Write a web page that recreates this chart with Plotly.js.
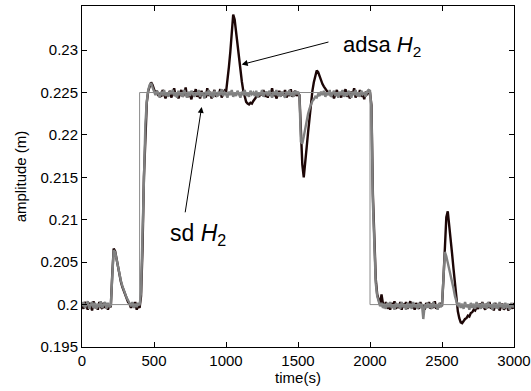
<!DOCTYPE html>
<html>
<head>
<meta charset="utf-8">
<script src="https://cdn.plot.ly/plotly-3.0.1.min.js"></script>
<style>html,body{margin:0;padding:0;background:#fff;}#chart{width:531px;height:391px;}</style>
</head>
<body>
<div id="chart"></div>
<script>
// time (s)
const timeS = [
  0,10,20,30,40,50,60,70,80,90,100,110,120,130,140,150,160,170,180,190,
  200,210,220,230,240,250,260,270,280,290,300,310,320,330,340,350,360,370,380,390,
  400,410,420,430,440,450,460,470,480,490,500,510,520,530,540,550,560,570,580,590,
  600,610,620,630,640,650,660,670,680,690,700,710,720,730,740,750,760,770,780,790,
  800,810,820,830,840,850,860,870,880,890,900,910,920,930,940,950,960,970,980,990,
  1000,1010,1020,1030,1040,1050,1060,1070,1080,1090,1100,1110,1120,1130,1140,1150,1160,1170,1180,1190,
  1200,1210,1220,1230,1240,1250,1260,1270,1280,1290,1300,1310,1320,1330,1340,1350,1360,1370,1380,1390,
  1400,1410,1420,1430,1440,1450,1460,1470,1480,1490,1500,1510,1520,1530,1540,1550,1560,1570,1580,1590,
  1600,1610,1620,1630,1640,1650,1660,1670,1680,1690,1700,1710,1720,1730,1740,1750,1760,1770,1780,1790,
  1800,1810,1820,1830,1840,1850,1860,1870,1880,1890,1900,1910,1920,1930,1940,1950,1960,1970,1980,1990,
  2000,2010,2020,2030,2040,2050,2060,2070,2080,2090,2100,2110,2120,2130,2140,2150,2160,2170,2180,2190,
  2200,2210,2220,2230,2240,2250,2260,2270,2280,2290,2300,2310,2320,2330,2340,2350,2360,2370,2380,2390,
  2400,2410,2420,2430,2440,2450,2460,2470,2480,2490,2500,2510,2520,2530,2540,2550,2560,2570,2580,2590,
  2600,2610,2620,2630,2640,2650,2660,2670,2680,2690,2700,2710,2720,2730,2740,2750,2760,2770,2780,2790,
  2800,2810,2820,2830,2840,2850,2860,2870,2880,2890,2900,2910,2920,2930,2940,2950,2960,2970,2980,2990,
  3000
];
// adsa H2 (black)
const adsaH2 = [
  0.2001,0.1995,0.2003,0.1997,0.1994,0.2002,0.1999,0.1993,0.2004,0.1996,0.2000,0.1994,0.2003,0.1998,0.1995,0.2002,0.1996,0.2001,0.1994,0.1999,
  0.1997,0.2035,0.2066,0.2063,0.2054,0.2042,0.2033,0.2027,0.2021,0.2016,0.2012,0.2007,0.2003,0.2001,0.1996,0.2002,0.1997,0.2003,0.1994,0.1999,
  0.1996,0.2010,0.2065,0.2150,0.2205,0.2238,0.2252,0.2258,0.2262,0.2259,0.2254,0.2249,0.2252,0.2246,0.2250,0.2245,0.2253,0.2248,0.2243,0.2250,
  0.2247,0.2252,0.2244,0.2249,0.2255,0.2246,0.2250,0.2243,0.2248,0.2253,0.2245,0.2249,0.2256,0.2244,0.2250,0.2247,0.2242,0.2251,0.2248,0.2254,
  0.2245,0.2249,0.2243,0.2252,0.2247,0.2250,0.2244,0.2255,0.2246,0.2251,0.2243,0.2248,0.2253,0.2245,0.2250,0.2247,0.2254,0.2244,0.2249,0.2252,
  0.2250,0.2262,0.2280,0.2298,0.2318,0.2342,0.2336,0.2320,0.2304,0.2288,0.2275,0.2263,0.2252,0.2244,0.2239,0.2237,0.2236,0.2238,0.2237,0.2240,
  0.2242,0.2244,0.2247,0.2245,0.2250,0.2247,0.2253,0.2245,0.2249,0.2244,0.2251,0.2247,0.2255,0.2246,0.2250,0.2243,0.2249,0.2252,0.2246,0.2250,
  0.2247,0.2253,0.2244,0.2250,0.2246,0.2254,0.2245,0.2249,0.2252,0.2246,0.2250,0.2247,0.2210,0.2165,0.2150,0.2165,0.2185,0.2203,0.2220,0.2238,
  0.2252,0.2262,0.2270,0.2276,0.2274,0.2269,0.2264,0.2260,0.2257,0.2255,0.2252,0.2248,0.2251,0.2245,0.2250,0.2243,0.2249,0.2253,0.2246,0.2250,
  0.2244,0.2252,0.2247,0.2254,0.2245,0.2249,0.2243,0.2251,0.2248,0.2255,0.2244,0.2250,0.2246,0.2253,0.2245,0.2249,0.2242,0.2251,0.2247,0.2253,
  0.2250,0.2235,0.2130,0.2065,0.2030,0.2012,0.2004,0.2000,0.2012,0.2001,0.1996,0.2003,0.1995,0.2001,0.1994,0.2002,0.1997,0.2004,0.1995,0.2000,
  0.1996,0.2003,0.1994,0.2001,0.1997,0.2003,0.1995,0.1999,0.2004,0.1996,0.2001,0.1994,0.2002,0.1998,0.1995,0.2003,0.1997,0.2000,0.1994,0.2002,
  0.1997,0.2003,0.1995,0.2001,0.1996,0.2004,0.1995,0.2000,0.1997,0.2002,0.1998,0.2030,0.2072,0.2103,0.2110,0.2095,0.2078,0.2060,0.2042,0.2022,
  0.2004,0.1992,0.1984,0.1979,0.1978,0.1981,0.1983,0.1984,0.1987,0.1986,0.1990,0.1991,0.1994,0.1993,0.1997,0.1995,0.2001,0.1996,0.2003,0.1997,
  0.1994,0.2001,0.1996,0.2003,0.1995,0.1999,0.1993,0.2002,0.1996,0.2000,0.1993,0.1998,0.2001,0.1994,0.1997,0.2000,0.1993,0.1996,0.1999,0.1995,
  0.2002
];
// sd H2 (gray)
const sdH2 = [
  0.1998,0.2003,0.1996,0.2001,0.2004,0.1995,0.2000,0.2003,0.1996,0.2002,0.1995,0.2001,0.1997,0.2004,0.1996,0.2000,0.2003,0.1995,0.2002,0.1997,
  0.1999,0.2033,0.2064,0.2062,0.2053,0.2043,0.2034,0.2028,0.2022,0.2017,0.2013,0.2008,0.2005,0.2002,0.1998,0.2003,0.1996,0.2001,0.1997,0.2002,
  0.1999,0.2015,0.2075,0.2160,0.2212,0.2240,0.2253,0.2259,0.2261,0.2256,0.2251,0.2247,0.2252,0.2248,0.2244,0.2251,0.2247,0.2253,0.2246,0.2250,
  0.2245,0.2251,0.2248,0.2253,0.2246,0.2250,0.2244,0.2252,0.2247,0.2250,0.2245,0.2253,0.2248,0.2244,0.2251,0.2246,0.2252,0.2249,0.2245,0.2250,
  0.2247,0.2253,0.2245,0.2250,0.2248,0.2243,0.2251,0.2247,0.2253,0.2246,0.2249,0.2244,0.2252,0.2248,0.2245,0.2251,0.2247,0.2254,0.2246,0.2250,
  0.2248,0.2244,0.2251,0.2247,0.2253,0.2245,0.2250,0.2246,0.2252,0.2248,0.2244,0.2251,0.2247,0.2253,0.2246,0.2249,0.2245,0.2252,0.2248,0.2250,
  0.2246,0.2252,0.2244,0.2250,0.2247,0.2253,0.2245,0.2249,0.2251,0.2246,0.2252,0.2248,0.2244,0.2251,0.2247,0.2253,0.2246,0.2250,0.2245,0.2251,
  0.2248,0.2244,0.2251,0.2247,0.2253,0.2246,0.2250,0.2245,0.2252,0.2248,0.2251,0.2246,0.2192,0.2190,0.2198,0.2208,0.2217,0.2225,0.2231,0.2236,
  0.2240,0.2242,0.2245,0.2244,0.2248,0.2246,0.2251,0.2247,0.2252,0.2245,0.2250,0.2247,0.2253,0.2245,0.2249,0.2252,0.2246,0.2250,0.2244,0.2251,
  0.2247,0.2253,0.2245,0.2250,0.2246,0.2252,0.2248,0.2244,0.2251,0.2247,0.2253,0.2246,0.2249,0.2245,0.2252,0.2248,0.2250,0.2245,0.2251,0.2253,
  0.2252,0.2232,0.2120,0.2058,0.2025,0.2010,0.2003,0.1998,0.2002,0.1996,0.2001,0.1995,0.2002,0.1997,0.2003,0.1996,0.2000,0.1994,0.2002,0.1997,
  0.2001,0.1995,0.2003,0.1997,0.2000,0.1994,0.2002,0.1996,0.2001,0.1995,0.2003,0.1997,0.2000,0.1995,0.2002,0.1996,0.2001,0.1983,0.1999,0.1996,
  0.2002,0.1996,0.2001,0.1995,0.2003,0.1997,0.2000,0.1994,0.2002,0.1997,0.2000,0.2040,0.2062,0.2057,0.2050,0.2043,0.2036,0.2028,0.2019,0.2010,
  0.2003,0.1998,0.2002,0.1996,0.2001,0.1995,0.2003,0.1997,0.2000,0.1994,0.2002,0.1996,0.2001,0.1995,0.2003,0.1997,0.2000,0.1995,0.2002,0.1996,
  0.2001,0.1995,0.2003,0.1997,0.2000,0.1994,0.2002,0.1996,0.2001,0.1995,0.2003,0.1997,0.2000,0.1995,0.2002,0.1996,0.2001,0.1994,0.2002,0.1997,
  0.1999
];
// reference set-point (thin line)
const refTime = [0, 400, 400, 2000, 2000, 3000];
const refLevel = [0.2, 0.2, 0.225, 0.225, 0.2, 0.2];

const xTicks = [0, 500, 1000, 1500, 2000, 2500, 3000];
const xTickText = ['0', '500', '1000', '1500', '2000', '2500', '3000'];
const yTicks = [0.195, 0.2, 0.205, 0.21, 0.215, 0.22, 0.225, 0.23];
const yTickText = ['0.195', '0.2', '0.205', '0.21', '0.215', '0.22', '0.225', '0.23'];

const FONT = 'Arial, "Liberation Sans", Helvetica, sans-serif';

const traces = [
  {x: timeS, y: adsaH2, type: 'scatter', mode: 'lines', name: 'adsa H2',
   line: {color: '#1c0606', width: 2.4}},
  {x: timeS, y: sdH2, type: 'scatter', mode: 'lines', name: 'sd H2',
   line: {color: '#808080', width: 2.4}},
  {x: refTime, y: refLevel, type: 'scatter', mode: 'lines', name: 'reference',
   line: {color: '#8a8a8a', width: 1}}
];

const axisCommon = {
  showgrid: false, zeroline: false, showline: true, linecolor: '#000', linewidth: 1,
  mirror: 'ticks', ticks: 'inside', ticklen: 5, tickwidth: 1, tickcolor: '#000',
  ticklabeloverflow: 'allow',
  tickfont: {family: FONT, size: 15, color: '#000'}
};

const layout = {
  width: 531, height: 391,
  margin: {l: 82, r: 17, t: 6, b: 44},
  paper_bgcolor: '#fff', plot_bgcolor: '#fff',
  showlegend: false,
  font: {family: FONT, color: '#000'},
  xaxis: Object.assign({}, axisCommon, {
    range: [0, 3000], tickmode: 'array', tickvals: xTicks, ticktext: xTickText,
    title: {text: 'time(s)', font: {family: FONT, size: 15}, standoff: 2}
  }),
  yaxis: Object.assign({}, axisCommon, {
    range: [0.195, 0.2352], tickmode: 'array', tickvals: yTicks, ticktext: yTickText,
    title: {text: 'amplitude (m)', font: {family: FONT, size: 15}, standoff: 10}
  }),
  annotations: [
    {xref: 'x', yref: 'y', x: 2080, y: 0.2305, text: 'adsa <i>H</i><sub>2</sub>',
     showarrow: false, font: {family: FONT, size: 22, color: '#000'}},
    {xref: 'x', yref: 'y', x: 806, y: 0.2083, text: 'sd <i>H</i><sub>2</sub>',
     showarrow: false, font: {family: FONT, size: 23, color: '#000'}},
    {xref: 'x', yref: 'y', x: 1109, y: 0.2283, axref: 'x', ayref: 'y', ax: 1722, ay: 0.2310,
     text: '', showarrow: true, arrowhead: 2, arrowsize: 1.2, arrowwidth: 1, arrowcolor: '#000'},
    {xref: 'x', yref: 'y', x: 831, y: 0.2233, axref: 'x', ayref: 'y', ax: 715, ay: 0.2107,
     text: '', showarrow: true, arrowhead: 2, arrowsize: 1.2, arrowwidth: 1, arrowcolor: '#000'}
  ]
};

Plotly.newPlot('chart', traces, layout, {displayModeBar: false, staticPlot: true});
</script>
</body>
</html>
